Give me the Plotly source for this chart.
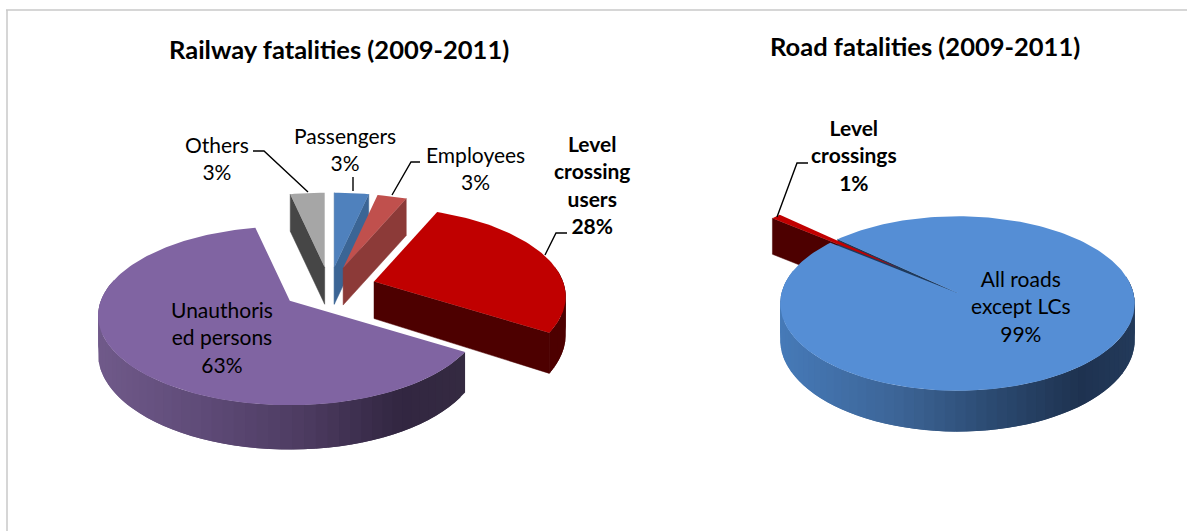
import math
import plotly.graph_objects as go

# ---- data (labels show these rounded to whole percent) ----
rail_labels = ["Others", "Passengers", "Employees", "Level crossing users", "Unauthorised persons"]
rail_values = [3.4, 3.4, 2.9, 27.7, 62.6]
road_labels = ["Level crossings", "All roads except LCs"]
road_values = [1, 99]

rail_title = "Railway fatalities (2009-2011)"
road_title = "Road fatalities (2009-2011)"

# ---- styles ----
FONT = "Lato"
rail_style = [
    dict(top="#a6a6a6", cut="#464646", rim=[(0, (70, 70, 70))]),
    dict(top="#4f81bd", cut="#3b6595", rim=[(0, (59, 101, 149))]),
    dict(top="#c0504d", cut="#8c3a38", rim=[(0, (140, 58, 56))]),
    dict(top="#c00000", cut="#4d0000", rim=[(0, (77, 0, 0))]),
    dict(top="#8064a2", cut="#332840",
         rim=[(97, (112, 90, 138)), (200, (95, 75, 120)), (300, (78, 60, 98)),
              (400, (50, 38, 65)), (460, (52, 42, 65))]),
]
road_style = [
    dict(top="#c00000", cut="#4d0000", rim=[(0, (77, 0, 0))]),
    dict(top="#558ed5", cut="#1f3a5c",
         rim=[(780, (70, 122, 184)), (900, (60, 100, 150)), (1000, (42, 72, 110)),
              (1080, (30, 50, 80)), (1135, (35, 58, 90))]),
]

fig = go.Figure()


def lerp_colour(stops, x):
    if x <= stops[0][0]:
        c = stops[0][1]
    elif x >= stops[-1][0]:
        c = stops[-1][1]
    else:
        for (x0, c0), (x1, c1) in zip(stops, stops[1:]):
            if x0 <= x <= x1:
                t = (x - x0) / (x1 - x0)
                c = tuple(c0[i] + (c1[i] - c0[i]) * t for i in range(3))
                break
    return "rgb(%d,%d,%d)" % tuple(round(v) for v in c)


def poly(pts, colour, lw=0.0):
    xs = [p[0] for p in pts] + [pts[0][0]]
    ys = [p[1] for p in pts] + [pts[0][1]]
    fig.add_trace(go.Scatter(x=xs, y=ys, mode="lines", fill="toself", fillcolor=colour,
                             line=dict(color=colour, width=lw), hoverinfo="skip", showlegend=False))


class Pie:
    """Projects a pie with perspective; every slice angle comes from the values."""

    def __init__(self, values, rotation, cx, cy, a, b, k, depth, explode):
        self.a, self.b, self.k, self.depth = a, b, k, depth
        self.cx, self.cy = cx, cy
        total = sum(values)
        self.slices = []
        ang = rotation
        for v, e in zip(values, explode):
            span = 360.0 * v / total
            mid = math.radians(ang + span / 2)
            ox, oy = self.proj(e * math.sin(mid), e * math.cos(mid))
            self.slices.append(dict(t0=ang, t1=ang + span, ax=cx + ox, ay=cy + oy))
            ang += span

    def proj(self, u, v):
        w = 1 + self.k * v
        return self.a * u / w, -self.b * v / w

    def rim(self, s, deg):
        t = math.radians(deg)
        u, v = math.sin(t), math.cos(t)
        dx, dy = self.proj(u, v)
        return s["ax"] + dx, s["ay"] + dy, self.depth / min(1 + self.k * v, 1)

    def arc(self, s, d0, d1, n=8):
        """Points along the rim between two angles."""
        return [self.rim(s, d0 + (d1 - d0) * j / n) for j in range(n + 1)]

    def walls(self, i, style):
        s = self.slices[i]
        step = 3.0
        d = s["t0"]
        strips = []
        while d < s["t1"]:
            strips.append((d, min(d + step, s["t1"])))
            d += step
        for d0, d1 in strips:
            if math.cos(math.radians((d0 + d1) / 2)) > 0.2:
                continue
            # each strip runs on under the following one, so no seam shows
            end = min(d1 + step, s["t1"])
            pts = self.arc(s, d0, end, 4)
            upper = [(x, y) for x, y, _ in pts]
            lower = [(x, y + h) for x, y, h in reversed(pts)]
            xa, _, _ = self.rim(s, d0)
            xb, _, _ = self.rim(s, d1)
            poly(upper + lower, lerp_colour(style["rim"], (xa + xb) / 2))
        # cut faces which look toward the viewer
        for deg, visible in ((s["t0"], math.sin(math.radians(s["t0"])) < 0),
                             (s["t1"], math.sin(math.radians(s["t1"])) > 0)):
            if visible:
                x, y, h = self.rim(s, deg)
                poly([(s["ax"], s["ay"]), (x, y), (x, y + h),
                      (s["ax"], s["ay"] + self.depth)], style["cut"], 0.5)

    def top(self, i, style):
        s = self.slices[i]
        n = max(2, int((s["t1"] - s["t0"]) / 1.5))
        pts = [(s["ax"], s["ay"])]
        for j in range(n + 1):
            x, y, _ = self.rim(s, s["t0"] + (s["t1"] - s["t0"]) * j / n)
            pts.append((x, y))
        poly(pts, style["top"])


# ---- railway pie ----
rail_rotation = 360 - 360 * rail_values[0] / sum(rail_values)
rail = Pie(rail_values, rail_rotation, 329.5, 288, 189, 87, 0.167, 37, [0.25] * 5)
for i in range(len(rail_values)):
    rail.walls(i, rail_style[i])
    rail.top(i, rail_style[i])

# ---- road pie ----
road = Pie(road_values, 309, 957.5, 293, 176, 86, 0.12, 36, [0.45, 0])
road.walls(0, road_style[0])
road.walls(1, road_style[1])
road.top(1, road_style[1])
road.top(0, road_style[0])

# ---- leader lines ----
leaders = [
    ([253, 264, 308], [151, 151, 192]),
    ([353, 353], [177, 191]),
    ([420, 411, 392], [162, 162, 195]),
    ([567, 556, 545], [233, 233, 255]),
    ([808, 797, 777], [163, 163, 217]),
]
for xs, ys in leaders:
    fig.add_trace(go.Scatter(x=xs, y=ys, mode="lines", line=dict(color="black", width=1.4),
                             hoverinfo="skip", showlegend=False))


def label(text, x, y, size=21, bold=False):
    t = "<b>%s</b>" % text.replace("<br>", "</b><br><b>") if bold else text
    fig.add_annotation(x=x, y=y, xref="x", yref="y", text=t, showarrow=False,
                       font=dict(family=FONT, size=size, color="black"),
                       align="center", xanchor="center", yanchor="middle")


label(rail_title, 339, 49, 25.5, True)
label(road_title, 925, 46, 25.5, True)
label("Others<br>%d%%" % round(rail_values[0]), 217, 158)
label("Passengers<br>%d%%" % round(rail_values[1]), 345, 149)
label("Employees<br>%d%%" % round(rail_values[2]), 475, 168)
label("Level<br>crossing<br>users<br>%d%%" % round(rail_values[3]), 592, 184, 21, True)
label("Unauthoris<br>ed persons<br>%d%%" % round(rail_values[4]), 222, 337)
label("Level<br>crossings<br>%d%%" % road_values[0], 854, 155, 21, True)
label("All roads<br>except LCs<br>%d%%" % road_values[1], 1021, 306)

fig.update_layout(
    width=1187, height=531, margin=dict(l=0, r=0, t=0, b=0),
    paper_bgcolor="white", plot_bgcolor="white", showlegend=False,
    xaxis=dict(range=[0, 1187], visible=False, fixedrange=True),
    yaxis=dict(range=[531, 0], visible=False, fixedrange=True),
    shapes=[
        dict(type="line", xref="x", yref="y", x0=6, x1=1187, y0=10, y1=10,
             line=dict(color="#c8c8c8", width=1.5)),
        dict(type="line", xref="x", yref="y", x0=7, x1=7, y0=10, y1=531,
             line=dict(color="#c8c8c8", width=1.5)),
    ],
)
fig.write_html("out.html", config=dict(displayModeBar=False),
               post_script="document.body.style.margin='0';document.body.style.overflow='hidden';")
